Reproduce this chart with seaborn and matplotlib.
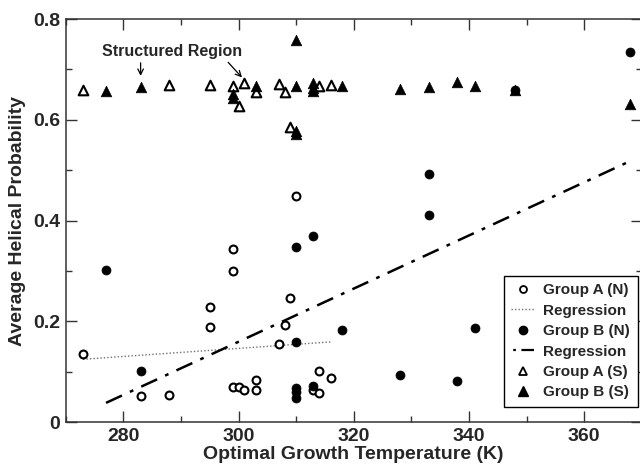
import matplotlib
matplotlib.use("Agg")
import matplotlib.pyplot as plt
from matplotlib.lines import Line2D
from matplotlib.ticker import MultipleLocator, FuncFormatter, FixedLocator
import seaborn as sns
import numpy as np

# ---- data ----
a_n_T = [273, 283, 288, 295, 295, 299, 299, 299, 300, 301, 303, 303, 307, 308, 309, 310, 313, 314, 314, 316]
a_n_y = [0.135, 0.052, 0.054, 0.228, 0.189, 0.343, 0.300, 0.070, 0.070, 0.064, 0.083, 0.064,
         0.155, 0.193, 0.247, 0.449, 0.064, 0.058, 0.102, 0.087]

b_n_T = [277, 283, 310, 310, 310, 310, 310, 313, 313, 318, 328, 333, 333, 338, 341, 348, 368]
b_n_y = [0.302, 0.102, 0.347, 0.158, 0.068, 0.060, 0.048, 0.370, 0.072, 0.182, 0.093,
         0.492, 0.410, 0.082, 0.186, 0.659, 0.734]

a_s_T = [273, 288, 295, 299, 300, 301, 303, 307, 308, 309, 314, 316]
a_s_y = [0.660, 0.669, 0.669, 0.668, 0.627, 0.672, 0.656, 0.671, 0.656, 0.585, 0.667, 0.669]

b_s_T = [277, 283, 299, 299, 303, 310, 310, 310, 310, 313, 313, 313, 318, 328, 333, 338, 341, 348, 368]
b_s_y = [0.658, 0.666, 0.652, 0.644, 0.667, 0.667, 0.758, 0.578, 0.572, 0.672, 0.664, 0.658,
         0.667, 0.662, 0.666, 0.674, 0.667, 0.659, 0.631]

reg_a_T = [273, 316]
reg_a_y = [0.1245, 0.159]
reg_b_T = [277, 368]
reg_b_y = [0.038, 0.518]

labels = ["Group A (N)", "Regression", "Group B (N)", "Regression", "Group A (S)", "Group B (S)"]
x_ticks = [280, 300, 320, 340, 360]
y_ticks = [0, 0.2, 0.4, 0.6, 0.8]

# ---- style ----
sns.set_style("ticks")
plt.rcParams['font.family'] = ['Liberation Sans', 'DejaVu Sans']
plt.rcParams['font.weight'] = 'bold'
plt.rcParams['axes.labelweight'] = 'bold'

fig = plt.figure(figsize=(6.4, 4.66), dpi=100)
ax = fig.add_axes([0.1027, 0.0944, 0.9, 0.8648])

dot_style = (0, (1, 1.5))
dashdot_style = (0, (7, 3.5, 1.5, 3.5))

sns.lineplot(x=reg_a_T, y=reg_a_y, ax=ax, color="#707070", lw=1.0, linestyle=dot_style, zorder=2)
sns.lineplot(x=reg_b_T, y=reg_b_y, ax=ax, color="black", lw=1.8, linestyle=dashdot_style, zorder=2)

sns.scatterplot(x=a_n_T, y=a_n_y, ax=ax, marker='o', s=32, color='white', edgecolor='black',
                linewidth=1.5, zorder=3)
sns.scatterplot(x=b_n_T, y=b_n_y, ax=ax, marker='o', s=42, color='black', edgecolor='black',
                linewidth=0.5, zorder=3)
sns.scatterplot(x=a_s_T, y=a_s_y, ax=ax, marker='^', s=48, color='white', edgecolor='black',
                linewidth=1.5, zorder=3)
sns.scatterplot(x=b_s_T, y=b_s_y, ax=ax, marker='^', s=58, color='black', edgecolor='black',
                linewidth=0.5, zorder=3)

ax.set_xlim(270, 370)
ax.set_ylim(0, 0.8)
ax.xaxis.set_major_locator(FixedLocator(x_ticks))
ax.xaxis.set_minor_locator(MultipleLocator(10))
ax.yaxis.set_major_locator(FixedLocator(y_ticks))
ax.yaxis.set_minor_locator(MultipleLocator(0.1))
ax.yaxis.set_major_formatter(FuncFormatter(lambda v, p: "0" if abs(v) < 1e-9 else f"{v:.1f}"))

ax.tick_params(which='both', direction='in', top=True, right=True, color='#333333', width=1.0)
ax.tick_params(which='major', length=8, labelsize=14, pad=4)
ax.tick_params(which='minor', length=4.3)
for sp in ax.spines.values():
    sp.set_linewidth(1.1)
    sp.set_color('#333333')

ax.set_xlabel("Optimal Growth Temperature (K)", fontsize=14, labelpad=1)
ax.set_ylabel("Average Helical Probability", fontsize=14, labelpad=5)

# annotation
ax.text(288.5, 0.735, "Structured Region", fontsize=11.5, fontweight='bold', ha='center', va='center')
ax.annotate("", xy=(283.0, 0.687), xytext=(283.0, 0.713),
            arrowprops=dict(arrowstyle='->', color='black', lw=0.9, shrinkA=0, shrinkB=0))
ax.annotate("", xy=(300.6, 0.684), xytext=(298.2, 0.714),
            arrowprops=dict(arrowstyle='->', color='black', lw=0.9, shrinkA=0, shrinkB=0))

handles = [
    Line2D([], [], marker='o', ls='none', mfc='white', mec='black', ms=5, mew=1.3),
    Line2D([], [], color='#707070', lw=1.0, ls=dot_style),
    Line2D([], [], marker='o', ls='none', mfc='black', mec='black', ms=6),
    Line2D([], [], color='black', lw=1.6, ls=(0, (0.001, 1, 1.2, 2.5, 6, 2.5, 1.2, 20))),
    Line2D([], [], marker='^', ls='none', mfc='white', mec='black', ms=6, mew=1.3),
    Line2D([], [], marker='^', ls='none', mfc='black', mec='black', ms=6.5),
]
leg = ax.legend(handles, labels, loc='lower right', bbox_to_anchor=(0.993, 0.037),
                borderaxespad=0, frameon=True, fancybox=False, framealpha=1,
                edgecolor='black', handlelength=1.5, handletextpad=0.6, labelspacing=0.42,
                borderpad=0.5, prop={'weight': 'bold', 'size': 11})
leg.get_frame().set_linewidth(1.0)

fig.savefig("out.png", dpi=100)
